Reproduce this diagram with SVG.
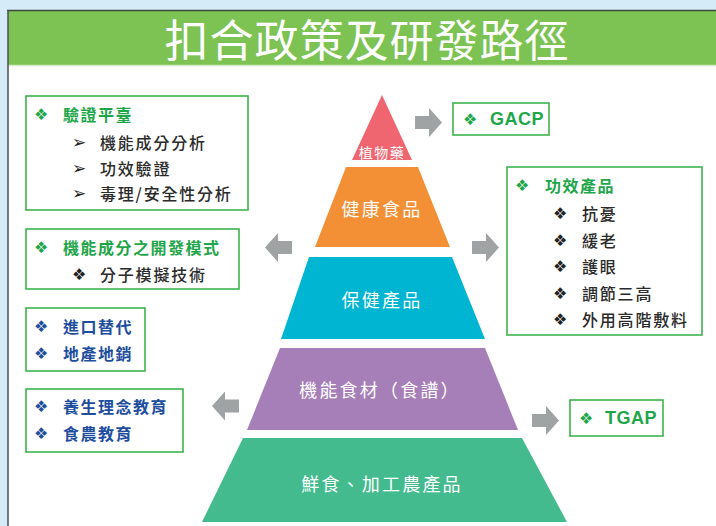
<svg xmlns="http://www.w3.org/2000/svg" width="716" height="526" viewBox="0 0 716 526">
<style>
text{font-family:"Noto Sans CJK TC","Noto Sans CJK SC","DejaVu Sans",sans-serif;dominant-baseline:central}
.box{fill:#ffffff;stroke:#3cb44e;stroke-width:1.6}
.g{fill:#1fa64a;font-weight:700;font-size:16px;letter-spacing:1.5px}
.k{fill:#2b2b2b;font-size:16px;letter-spacing:1.8px;font-weight:500}
.b{fill:#1f4e9e;font-weight:700;font-size:16px;letter-spacing:1.5px}
.bul{font-family:"DejaVu Sans",sans-serif;font-size:16px}
.arr{font-family:"DejaVu Sans",sans-serif;font-size:17px;fill:#222}
.tier{fill:#ffffff;font-size:18px;letter-spacing:2.2px;text-anchor:middle}
.ga{fill:#9fa3a3}
</style>
<defs>
<path id="ar" d="M0,-6.5 H14 V-14.5 L27,0 L14,14.5 V6.5 H0 Z"/>
</defs>
<rect x="0" y="0" width="716" height="526" fill="#d5ebf8"/>
<rect x="8" y="10" width="708" height="516" fill="#ffffff"/>
<rect x="8" y="10" width="708" height="55" fill="#7cc353"/>
<line x1="8" y1="65.5" x2="716" y2="65.5" stroke="#d3ecc6" stroke-width="1.5"/>
<line x1="7" y1="10.5" x2="716" y2="10.5" stroke="#3d4a3d" stroke-width="1.5"/>
<line x1="8" y1="10" x2="8" y2="526" stroke="#4a4f55" stroke-width="1.5"/>
<text x="367" y="38" font-size="44" fill="#ffffff" text-anchor="middle" font-weight="400" letter-spacing="1">扣合政策及研發路徑</text>

<g id="tier-herb">
<polygon points="382,95 412,160 352,160" fill="#ef6670"/>
<text x="382" y="152" class="tier" style="font-size:14px;letter-spacing:1.5px">植物藥</text>
</g>
<g id="tier-health-food">
<polygon points="346,167 418,167 450,247 315,247" fill="#f39035"/>
<text x="382" y="208" class="tier">健康食品</text>
</g>
<g id="tier-care">
<polygon points="309,257 452,257 485,339 281,339" fill="#00b5d1"/>
<text x="382" y="299" class="tier">保健產品</text>
</g>
<g id="tier-functional">
<polygon points="280,348 485,348 518,430 247,430" fill="#a77fb8"/>
<text x="380" y="389" class="tier">機能食材（食譜）</text>
</g>
<g id="tier-fresh">
<polygon points="243,438 522,438 567,522 202,522" fill="#44bb8f"/>
<text x="382" y="483" class="tier">鮮食、加工農產品</text>
</g>

<g id="box-verify">
<rect class="box" x="26" y="96" width="222" height="114"/>
<text class="bul" x="34" y="114" fill="#1fa64a">❖</text>
<text class="g" x="63" y="114">驗證平臺</text>
<text class="arr" x="72" y="142">➢</text>
<text class="k" x="100" y="142">機能成分分析</text>
<text class="arr" x="72" y="168">➢</text>
<text class="k" x="100" y="168">功效驗證</text>
<text class="arr" x="72" y="193">➢</text>
<text class="k" x="100" y="193">毒理/安全性分析</text>
</g>
<g id="box-dev-model">
<rect class="box" x="26" y="229" width="213" height="60"/>
<text class="bul" x="34" y="247" fill="#1fa64a">❖</text>
<text class="g" x="63" y="247">機能成分之開發模式</text>
<text class="bul" x="72" y="274" fill="#222">❖</text>
<text class="k" x="100" y="274">分子模擬技術</text>
</g>
<g id="box-local">
<rect class="box" x="26" y="308" width="119" height="63"/>
<text class="bul" x="34" y="326" fill="#1f4e9e">❖</text>
<text class="b" x="63" y="326">進口替代</text>
<text class="bul" x="34" y="353" fill="#1f4e9e">❖</text>
<text class="b" x="63" y="353">地產地銷</text>
</g>
<g id="box-education">
<rect class="box" x="26" y="389" width="157" height="63"/>
<text class="bul" x="34" y="406" fill="#1f4e9e">❖</text>
<text class="b" x="63" y="406">養生理念教育</text>
<text class="bul" x="34" y="433" fill="#1f4e9e">❖</text>
<text class="b" x="63" y="433">食農教育</text>
</g>
<g id="box-gacp">
<rect class="box" x="453" y="103" width="96" height="32"/>
<text class="bul" x="463" y="119" fill="#1fa64a">❖</text>
<text class="g" x="490" y="119" style="font-family:'Liberation Sans',sans-serif;font-size:18px;letter-spacing:0.5px">GACP</text>
</g>
<g id="box-efficacy">
<rect class="box" x="507" y="167" width="195" height="168"/>
<text class="bul" x="515" y="185" fill="#1fa64a">❖</text>
<text class="g" x="545" y="185">功效產品</text>
<text class="bul" x="553" y="213" fill="#222">❖</text>
<text class="k" x="582" y="213">抗憂</text>
<text class="bul" x="553" y="240" fill="#222">❖</text>
<text class="k" x="582" y="240">緩老</text>
<text class="bul" x="553" y="266" fill="#222">❖</text>
<text class="k" x="582" y="266">護眼</text>
<text class="bul" x="553" y="293" fill="#222">❖</text>
<text class="k" x="582" y="293">調節三高</text>
<text class="bul" x="553" y="319" fill="#222">❖</text>
<text class="k" x="582" y="319">外用高階敷料</text>
</g>
<g id="box-tgap">
<rect class="box" x="570" y="400" width="93" height="36"/>
<text class="bul" x="579" y="418" fill="#1fa64a">❖</text>
<text class="g" x="605" y="418" style="font-family:'Liberation Sans',sans-serif;font-size:18px;letter-spacing:0.5px">TGAP</text>
</g>

<g id="connectors" class="ga">
<use href="#ar" transform="translate(415,122.5)"/>
<use href="#ar" transform="translate(472,247.5)"/>
<use href="#ar" transform="translate(532,420.5)"/>
<use href="#ar" transform="translate(292,247.5) scale(-1,1)"/>
<use href="#ar" transform="translate(239,406) scale(-1,1)"/>
</g>
</svg>
